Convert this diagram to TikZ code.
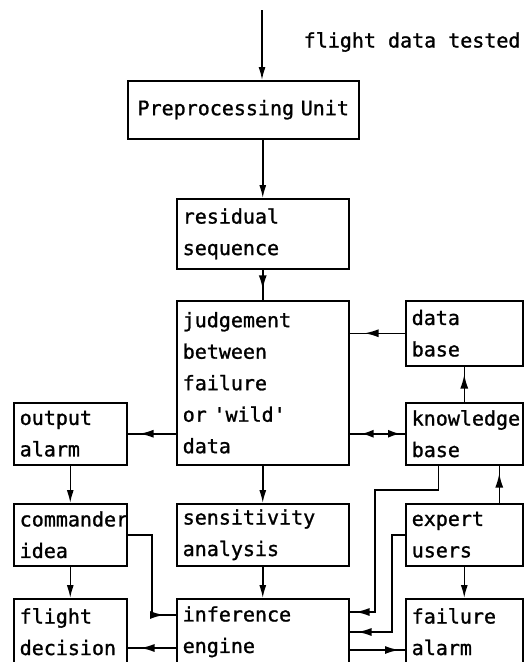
\documentclass[tikz,border=0pt]{standalone}
\usepackage{fontspec}
\setmonofont{DejaVu Sans Mono}[UprightFeatures={FakeBold=1.2}]
\usetikzlibrary{arrows.meta,decorations.markings}

\begin{document}
\begin{tikzpicture}[x=1pt,y=-1pt,line width=1.5pt,
    box/.style={draw,anchor=north west,inner xsep=6pt,inner ysep=0pt,
      minimum height=62pt,align=left,
      font=\ttfamily\fontsize{20}{31.5}\selectfont},
    endarr/.style={-{Latex[length=13pt,width=7pt]}},
    midarr/.style={postaction={decorate},decoration={markings,
      mark=at position #1 with {\arrow{Latex[length=14pt,width=8pt]}}}},
    twoarr/.style={postaction={decorate},decoration={markings,
      mark=at position 12pt with {\arrowreversed{Latex[length=12pt,width=8pt]}},
      mark=at position -5pt with {\arrow{Latex[length=12pt,width=8pt]}}}}]
  \useasboundingbox (0,0) rectangle (525,662);
  \clip (0,0) rectangle (525,662);

  % boxes
  \node[box,text width=219pt,align=center,minimum height=58pt] (pre) at (127,80) {Preprocessing Unit};
  \node[box,text width=160pt,minimum height=70pt] (resid) at (176,198) {residual\\sequence};
  \node[box,text width=160pt,minimum height=164pt] (judge) at (176,300) {judgement\\between\\failure\\or 'wild'\\data};
  \node[box,text width=105pt,minimum height=65pt] (dbase) at (405,300) {data\\base};
  \node[box,text width=105pt] (kbase) at (405,402) {knowledge\\base};
  \node[box,text width=101pt] (outal) at (13,402) {output\\alarm};
  \node[box,text width=101pt] (cmdr) at (13,503) {commander\\idea};
  \node[box,text width=160pt] (sens) at (176,503) {sensitivity\\analysis};
  \node[box,text width=105pt] (expert) at (405,503) {expert\\users};
  \node[box,text width=101pt,minimum height=66pt] (fdec) at (13,598) {flight\\decision};
  \node[box,text width=160pt,minimum height=66pt] (infer) at (176,598) {inference\\engine};
  \node[box,text width=105pt,minimum height=66pt] (falarm) at (405,598) {failure\\alarm};

  \node[anchor=west,inner sep=0pt,font=\ttfamily\fontsize{20}{24}\selectfont] (lbl) at (303,42) {flight data tested};

  % ports and bends
  \coordinate (src) at (262,10);
  \coordinate (inL1) at ([yshift=-17pt]infer.north west);
  \coordinate (inL2) at ([yshift=-50pt]infer.north west);
  \coordinate (inR1) at ([yshift=-14pt]infer.north east);
  \coordinate (inR2) at ([yshift=-34pt]infer.north east);
  \coordinate (inR3) at ([yshift=-52pt]infer.north east);
  \coordinate (kbD) at ([xshift=-26pt]kbase.south);
  \coordinate (kbU) at ([xshift=35pt]kbase.south);
  \coordinate (kb1) at (375,490);
  \coordinate (ex1) at (392,560);
  \coordinate (cm1) at (152,560);

  % main column
  \draw[endarr] (src) -- (src |- pre.north);
  \draw[endarr] (resid.north |- pre.south) -- (resid.north);
  \draw[midarr=0.65] (resid.south) -- (judge.north);
  \draw[endarr] (judge.south) -- (sens.north);
  \draw[endarr] (sens.south) -- (infer.north);

  % right column
  \draw[midarr=-15pt] (dbase.west) -- (dbase.west -| judge.east);
  \draw[midarr=-8pt] (kbase.north) -- (dbase.south);
  \draw[twoarr] (judge.east |- kbase.west) -- (kbase.west);
  \draw[midarr=-8pt] (kbU |- expert.north) -- (kbU);
  \draw[endarr] (expert.south) -- (falarm.north);
  \draw[midarr=-6pt] (kbD) |- (kb1) |- (inR1);
  \draw[midarr=-8pt] (expert.west) -| (ex1) |- (inR2);
  \draw[midarr=-6pt] (inR3) -- (inR3 -| falarm.west);

  % left column
  \draw[midarr=-12pt] (judge.west |- outal.east) -- (outal.east);
  \draw[endarr] (outal.south) -- (cmdr.north);
  \draw[endarr] (cmdr.south) -- (fdec.north);
  \draw[midarr=-12pt] (cmdr.east) -| (cm1) |- (inL1);
  \draw[midarr=-13pt] (inL2) -- (inL2 -| fdec.east);
\end{tikzpicture}
\end{document}
